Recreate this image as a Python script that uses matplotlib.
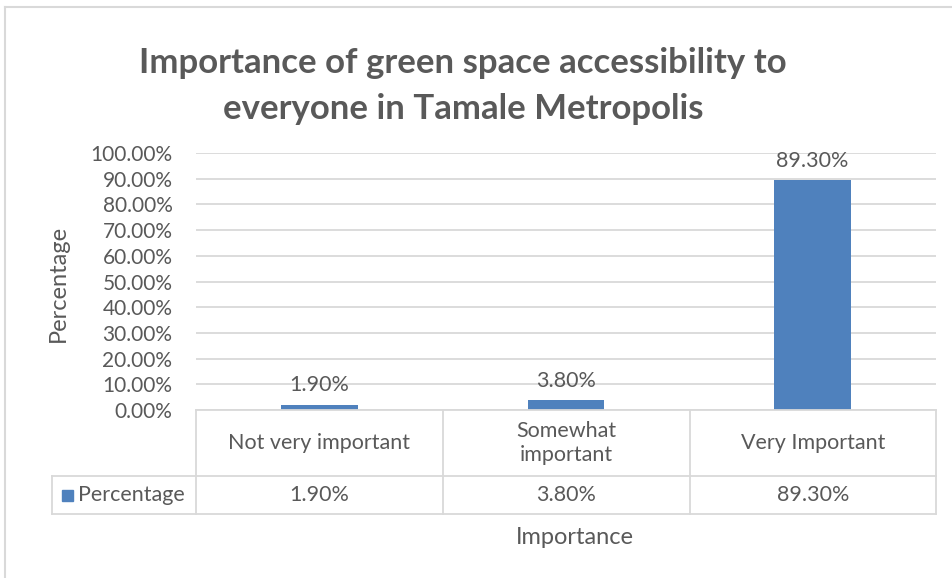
import matplotlib.pyplot as plt
from matplotlib.lines import Line2D
from matplotlib.patches import Rectangle

# chart data
categories = ["Not very important", "Somewhat\nimportant", "Very Important"]
values = [1.90, 3.80, 89.30]
series_name = "Percentage"
y_ticks = [0, 10, 20, 30, 40, 50, 60, 70, 80, 90, 100]

W, H = 953, 578
BAR = "#4F81BD"
TXT = "#595959"
GRID = "#D9D9D9"
FONT = "Lato"

fig = plt.figure(figsize=(W / 100, H / 100), dpi=100)


def fx(px):
    return px / W


def fy(py):
    return 1 - py / H


def hline(x0, x1, y, color=GRID, lw=1.3):
    fig.add_artist(Line2D([fx(x0), fx(x1)], [fy(y), fy(y)], color=color, lw=lw,
                          transform=fig.transFigure))


def vline(x, y0, y1, color=GRID, lw=1.3):
    fig.add_artist(Line2D([fx(x), fx(x)], [fy(y0), fy(y1)], color=color, lw=lw,
                          transform=fig.transFigure))


# outer chart border
hline(5, W, 7, lw=1.5)
vline(5, 7, H, lw=1.5)

# plot area
left, right, top, bottom = 196, 936, 153, 410
ax = fig.add_axes([fx(left), fy(bottom), fx(right - left), (bottom - top) / H])
x = range(len(categories))
bars = ax.bar(x, values, width=0.31, color=BAR, zorder=3)
ax.set_xlim(-0.5, len(categories) - 0.5)
ax.set_ylim(0, 100)
ax.set_yticks(y_ticks)
ax.set_yticklabels([f"{t:.2f}%" for t in y_ticks], fontsize=15, color=TXT, family=FONT)
ax.set_xticks([])
ax.tick_params(axis="y", length=0, pad=17)
ax.grid(axis="y", color=GRID, lw=1.3, zorder=0)
for s in ax.spines.values():
    s.set_visible(False)

for b, v in zip(bars, values):
    ax.annotate(f"{v:.2f}%", (b.get_x() + b.get_width() / 2, v), xytext=(0, 7),
                textcoords="offset points", ha="center", va="bottom",
                fontsize=15.5, color=TXT, family=FONT)

fig.text(fx(58), fy(283), "Percentage", rotation=90, ha="center", va="center",
         fontsize=17, color=TXT, family=FONT)

fig.text(fx(463), fy(86), "Importance of green space accessibility to\neveryone in Tamale Metropolis",
         ha="center", va="center", fontsize=25, fontweight="bold", color=TXT,
         family=FONT, linespacing=1.55)

# data table under the axis
col_edges = [196, 443, 690, 936]
row_edges = [410, 476, 514]
for y in row_edges:
    hline(left, right, y)
hline(52, left, row_edges[1])
hline(52, left, row_edges[2])
for xe in col_edges:
    vline(xe, row_edges[0], row_edges[2])
vline(52, row_edges[1], row_edges[2])

for i, (cat, v) in enumerate(zip(categories, values)):
    cx = (col_edges[i] + col_edges[i + 1]) / 2
    fig.text(fx(cx), fy((row_edges[0] + row_edges[1]) / 2), cat, ha="center", va="center",
             fontsize=15.5, color=TXT, family=FONT, linespacing=1.2)
    fig.text(fx(cx), fy((row_edges[1] + row_edges[2]) / 2), f"{v:.2f}%", ha="center",
             va="center", fontsize=15.5, color=TXT, family=FONT)

fig.add_artist(Rectangle((fx(62), fy(501)), fx(11), 11 / H, color=BAR,
                         transform=fig.transFigure))
fig.text(fx(78), fy(495), series_name, ha="left", va="center", fontsize=15.5,
         color=TXT, family=FONT)

fig.text(fx(575), fy(538), "Importance", ha="center", va="center", fontsize=17,
         color=TXT, family=FONT)

fig.savefig("out.png", dpi=100)
